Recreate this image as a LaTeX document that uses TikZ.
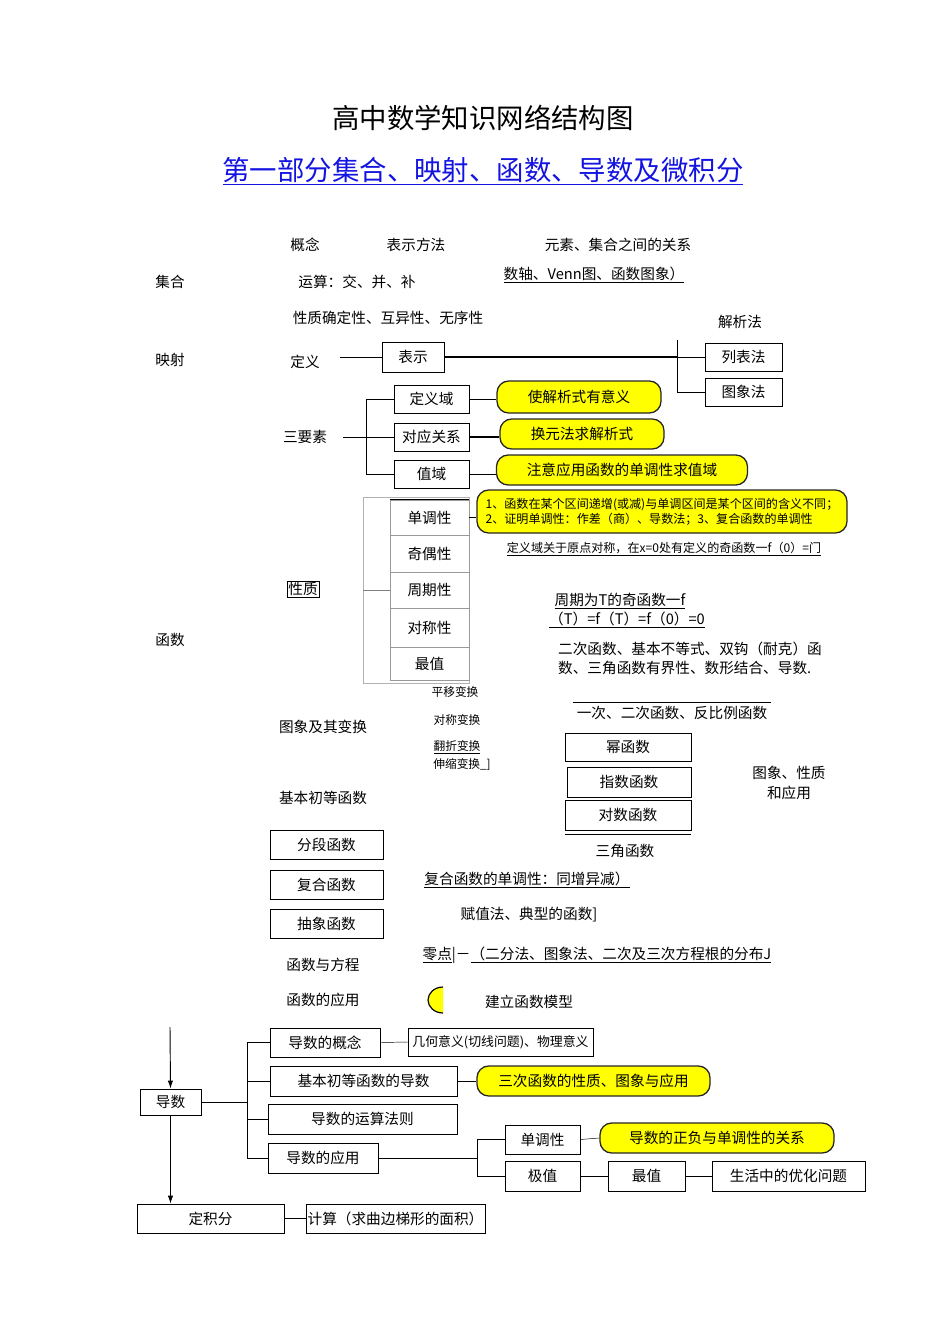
\documentclass[tikz,border=0pt]{standalone}
\usepackage{fontspec}
\setmainfont{Noto Sans CJK SC}
\usetikzlibrary{arrows.meta}
\definecolor{linkblue}{RGB}{20,20,225}
\definecolor{hlyellow}{RGB}{255,255,0}

\begin{document}
\begin{tikzpicture}[x=0.3mm, y=-0.3mm, font=\fontsize{12.5}{15}\selectfont,
    box/.style = {draw, line width=0.6pt, inner sep=0pt},
    cell/.style = {draw=gray!80, inner sep=0pt, minimum width=23.7mm},
    hl/.style = {draw=black!85, fill=hlyellow, line width=1.1pt, rounded corners=3.5mm, inner sep=0pt, minimum height=9mm},
    small/.style = {font=\fontsize{10}{12}\selectfont},
    note/.style = {font=\fontsize{10.3}{13}\selectfont}]
\useasboundingbox (0,0) rectangle (950,1318);

% titles
\node (title) at (483,118) {\fontsize{23.4}{28}\selectfont 高中数学知识网络结构图};
\node[text=linkblue] (part) at (483,171) {\fontsize{23.4}{28}\selectfont\underline{第一部分集合、映射、函数、导数及微积分}};

% 集合
\node (gn) at (305,245) {概念};
\node (bsff) at (416,245) {表示方法};
\node (ysgx) at (618,245) {元素、集合之间的关系};
\node (jh) at (170,282) {集合};
\node (yunsuan) at (357,282) {运算：交、并、补};
\node (szt) at (594,275) {\underline{数轴、Venn图、函数图象）}};
\node (xz1) at (388,318) {性质确定性、互异性、无序性};
\node (jxf) at (740,322) {解析法};

% 映射
\node (ys) at (170,360) {映射};
\node (dy) at (305,362) {定义};
\node[box, minimum width=18.6mm, minimum height=9mm] (bs) at (413,357) {表示};
\node[box, minimum width=23.1mm, minimum height=8.4mm] (lbf) at (743.5,357) {列表法};
\node[box, minimum width=23.1mm, minimum height=8.4mm] (txf) at (743.5,392) {图象法};
\coordinate (dyl) at (340,357);
\coordinate (fork) at (677,340);
\draw (dyl) -- (bs.west);
\draw[line width=1.5pt] (bs.east) -- (bs.east -| fork);
\draw (bs.east -| fork) -- (lbf.west);
\draw (fork) |- (txf.west);

% 三要素
\node (sys) at (305,437) {三要素};
\node[box, minimum width=22.5mm, minimum height=8.4mm] (dyy) at (431.5,399) {定义域};
\node[box, minimum width=22.5mm, minimum height=8.4mm] (dygx) at (431.5,437) {对应关系};
\node[box, minimum width=22.5mm, minimum height=8.4mm] (zy) at (431.5,474) {值域};
\coordinate (b1) at (366,0);
\draw[shorten <=3.6mm] (sys.east) -- (dygx.west);
\draw (dyy.west) -- (dyy.west -| b1) -- (zy.west -| b1) -- (zy.west);
\node[hl, minimum width=49.2mm, minimum height=9.6mm] (y1) at (579,397) {使解析式有意义};
\node[hl, minimum width=49.2mm] (y2) at (582,434) {换元法求解析式};
\node[hl, minimum width=75.3mm] (y3) at (622,470) {注意应用函数的单调性求值域};
\draw (dyy.east) -- (dyy.east -| y1.west);
\draw[line width=1.5pt] (dygx.east) -- (dygx.east -| y2.west);
\draw (zy.east) -- (zy.east -| y3.west);

% 性质
\node (hs) at (170,640) {函数};
\node[draw, line width=0.4pt, inner sep=1pt] (xz) at (303,589) {性质};
\draw[gray!60] (363,497) rectangle (469,683);
\node[cell, minimum height=10.5mm] (ddx) at (429.5,517.5) {单调性};
\node[cell, minimum height=11.1mm] (joux) at (429.5,553.5) {奇偶性};
\node[cell, minimum height=10.8mm] (zqx) at (429.5,590) {周期性};
\node[cell, minimum height=11.7mm] (dcx) at (429.5,627.5) {对称性};
\node[cell, minimum height=9.9mm] (zz) at (429.5,663.5) {最值};
\draw[gray] (zqx.west) -- ++(-27,0);
\draw[line width=0.8pt] (ddx.north west) -- (ddx.north east);
\node[hl, minimum width=111mm, minimum height=12.9mm, align=left, note] (ybig) at (662,511.5) {1、函数在某个区间递增(或减)与单调区间是某个区间的含义不同；\\2、证明单调性：作差（商）、导数法；3、复合函数的单调性};
\draw (ddx.east) -- (ddx.east -| ybig.west);
\node[note] (qo) at (664,549) {\underline{定义域关于原点对称，在x=0处有定义的奇函数一f（0）=门}};
\node (zq1) at (620,601) {\underline{周期为T的奇函数一f}};
\node (zq2) at (627,620) {\underline{（T）=f（T）=f（0）=0}};
\node[align=left, font=\fontsize{12.5}{16.2}\selectfont] (zuiz) at (690,658) {二次函数、基本不等式、双钩（耐克）函\\数、三角函数有界性、数形结合、导数.};

% 图象及其变换
\node[small] (pybh) at (455,692) {平移变换};
\node[small] (dcbh) at (457,720) {对称变换};
\node[small] (fzbh) at (457,747) {\underline{翻折变换}};
\node[small] (ssbh) at (462,765) {伸缩变换\_]};
\node (txbh) at (323,727) {图象及其变换};

% 基本初等函数
\node (jbcd) at (323,798) {基本初等函数};
\node (yici) at (672,713) {一次、二次函数、反比例函数};
\draw (yici.north west) -- (yici.north east);
\node[box, minimum width=37.8mm, minimum height=8.4mm] (mhs) at (628,747) {幂函数};
\node[box, minimum width=37.2mm, minimum height=9mm] (zhs) at (629,782) {指数函数};
\node[box, minimum width=37.8mm, minimum height=9mm] (dhs) at (628,815) {对数函数};
\draw ([yshift=-1.2mm]dhs.south west) -- ([yshift=-1.2mm]dhs.south east);
\node (sjhs) at (625,851) {三角函数};
\node[align=center, font=\fontsize{12.5}{17}\selectfont] (txzy) at (789,783) {图象、性质\\和应用};

% 其它函数
\node[box, minimum width=33.9mm, minimum height=8.7mm] (fd) at (326.5,844.5) {分段函数};
\node[box, minimum width=33.9mm, minimum height=8.7mm] (fh) at (326.5,884.5) {复合函数};
\node[box, minimum width=33.9mm, minimum height=8.7mm] (cx) at (326.5,923.5) {抽象函数};
\node (fhdd) at (527,880) {\underline{复合函数的单调性：同增异减）}};
\node (fzf) at (529,915) {赋值法、典型的函数]};
\node (ld) at (597,955) {\underline{零点}|－\underline{（二分法、图象法、二次及三次方程根的分布J}};
\node (hsfc) at (323,965) {函数与方程};
\node (hsyy) at (323,1000) {函数的应用};
\fill[hlyellow] (443,987) arc[start angle=-90, end angle=-270, x radius=15, y radius=13] -- cycle;
\draw[line width=1pt] (443,987) arc[start angle=-90, end angle=-270, x radius=15, y radius=13];
\node (jlmx) at (529,1002) {建立函数模型};

% 导数
\coordinate (dtop) at (170,1027);
\node[box, minimum width=18.3mm, minimum height=7.8mm] (ds) at (170.5,1102) {导数};
\node[box, minimum width=44.1mm, minimum height=8.7mm] (djf) at (210.5,1218.5) {定积分};
\draw[line width=0.8pt, -{Latex[length=2.4mm, width=1.6mm]}] (dtop) -- (ds.north);
\draw[line width=0.8pt, -{Latex[length=2.4mm, width=1.6mm]}] (ds.south) -- (ds.south |- djf.north);
\node[box, minimum width=33mm, minimum height=8.7mm] (dgn) at (325,1042.5) {导数的概念};
\node[box, minimum width=56.1mm, minimum height=9mm] (jbd) at (363.5,1081) {基本初等函数的导数};
\node[box, minimum width=56.7mm, minimum height=9mm] (ysfz) at (362.5,1119) {导数的运算法则};
\node[box, minimum width=33mm, minimum height=9mm] (dyy2) at (323,1158) {导数的应用};
\coordinate (b2) at (247,0);
\draw (ds.east) -- (ds.east -| b2);
\draw (dgn.west) -- (dgn.west -| b2) -- (dyy2.west -| b2) -- (dyy2.west);
\draw (jbd.west) -- (jbd.west -| b2);
\draw (ysfz.west) -- (ysfz.west -| b2);
\node[box, minimum width=55.5mm, minimum height=8.4mm, font=\fontsize{11}{13}\selectfont] (jhyy) at (500.5,1042) {几何意义(切线问题)、物理意义};
\draw (dgn.east) -- (jhyy.west);
\node[hl, minimum width=69.9mm] (y4) at (593.5,1081) {三次函数的性质、图象与应用};
\draw (jbd.east) -- (y4.west);
\node[box, minimum width=22.5mm, minimum height=8.7mm] (ddx2) at (542.5,1139.5) {单调性};
\node[box, minimum width=22.5mm, minimum height=9mm] (jz) at (542.5,1176) {极值};
\coordinate (b3) at (477,0);
\draw (dyy2.east) -- (dyy2.east -| b3);
\draw (ddx2.west) -- (ddx2.west -| b3) -- (jz.west -| b3) -- (jz.west);
\node[hl, minimum width=70.2mm] (y5) at (717,1138) {导数的正负与单调性的关系};
\draw (ddx2.east) -- (y5.west);
\node[box, minimum width=23.1mm, minimum height=9mm] (zz2) at (646.5,1176) {最值};
\node[box, minimum width=45.9mm, minimum height=9mm] (shyh) at (788.5,1176) {生活中的优化问题};
\draw (jz.east) -- (zz2.west);
\draw (zz2.east) -- (shyh.west);
\node[box, minimum width=53.7mm, minimum height=8.7mm] (js) at (395.5,1218.5) {计算（求曲边梯形的面积）};
\draw (djf.east) -- (js.west);
\end{tikzpicture}
\end{document}
